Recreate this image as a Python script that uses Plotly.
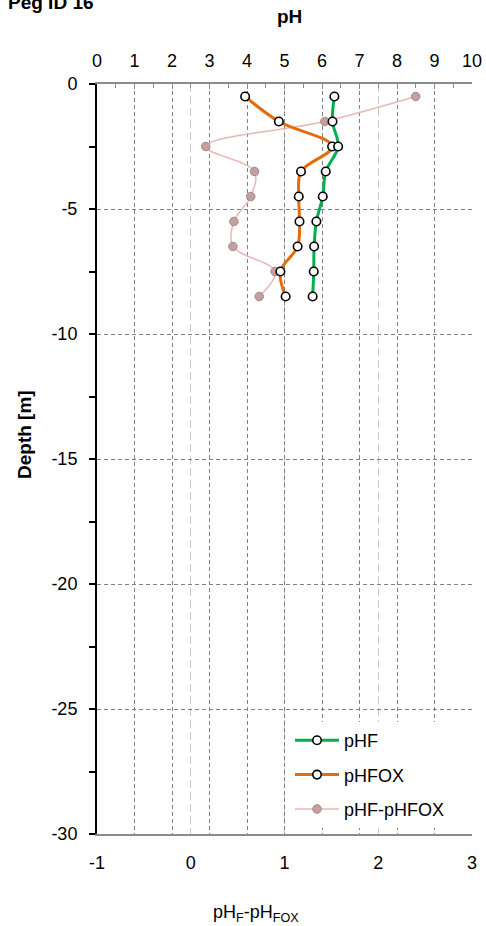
import plotly.graph_objects as go

# ---- data ----
depth = [-0.5, -1.5, -2.5, -3.5, -4.5, -5.5, -6.5, -7.5, -8.5]
ph_f = [6.33, 6.28, 6.43, 6.10, 6.02, 5.85, 5.79, 5.78, 5.75]
ph_fox = [3.95, 4.85, 6.27, 5.44, 5.38, 5.40, 5.35, 4.89, 5.03]
ph_diff = [2.40, 1.43, 0.16, 0.68, 0.64, 0.46, 0.45, 0.90, 0.73]

ph_tickvals = [0, 1, 2, 3, 4, 5, 6, 7, 8, 9, 10]
ph_ticktext = ["0", "1", "2", "3", "4", "5", "6", "7", "8", "9", "10"]
diff_tickvals = [-1, 0, 1, 2, 3]
diff_ticktext = ["-1", "0", "1", "2", "3"]
depth_tickvals = [0, -5, -10, -15, -20, -25, -30]
depth_ticktext = ["0", "-5", "-10", "-15", "-20", "-25", "-30"]

W, H = 486, 926
ML, MR, MT, MB = 97, 14, 84, 92
PW, PH = W - ML - MR, H - MT - MB
FONT = "Arial, 'Liberation Sans', sans-serif"


def px(x):
    return (x - ML) / PW


def py(y):
    return (H - MB - y) / PH


fig = go.Figure()

fig.add_trace(go.Scatter(
    x=ph_diff, y=depth, xaxis="x", yaxis="y", name="pHF-pHFOX",
    mode="lines+markers", line=dict(color="#E6B9B8", width=1.5, shape="spline", smoothing=1.0),
    marker=dict(size=8.5, color="#C4A0A0", line=dict(color="#A08888", width=1)),
    legendrank=3, legendgroup="c"))
fig.add_trace(go.Scatter(
    x=ph_fox, y=depth, xaxis="x2", yaxis="y", name="pHFOX",
    mode="lines+markers", line=dict(color="#E46C0A", width=3, shape="spline", smoothing=1.0),
    marker=dict(size=8.5, color="white", line=dict(color="black", width=1.6)),
    legendrank=2, legendgroup="b"))
fig.add_trace(go.Scatter(
    x=ph_f, y=depth, xaxis="x2", yaxis="y", name="pHF",
    mode="lines+markers", line=dict(color="#00B050", width=3, shape="spline", smoothing=1.0),
    marker=dict(size=8.5, color="white", line=dict(color="black", width=1.6)),
    legendrank=1, legendgroup="a"))

fig.update_layout(
    width=W, height=H,
    margin=dict(l=ML, r=MR, t=MT, b=MB, autoexpand=False),
    paper_bgcolor="white", plot_bgcolor="white",
    font=dict(family=FONT, size=18, color="black"),
    showlegend=True,
    legend=dict(x=px(290), y=py(722), xanchor="left", yanchor="top",
                bgcolor="white", borderwidth=0, tracegroupgap=8, itemwidth=44,
                font=dict(family=FONT, size=18, color="black")),
    xaxis=dict(
        range=[-1, 3], side="bottom", anchor="y",
        tickvals=diff_tickvals, ticktext=diff_ticktext, ticks="",
        showline=True, linecolor="#8C8C8C", linewidth=2,
        showgrid=True, gridcolor="#C8C8C8", gridwidth=1.2, griddash="8px,4px",
        zeroline=False, ticklabelstandoff=11,
    ),
    xaxis2=dict(
        range=[0, 10], side="top", overlaying="x", anchor="y",
        tickvals=ph_tickvals, ticktext=ph_ticktext,
        ticks="inside", ticklen=5, tickcolor="#8C8C8C", tickwidth=1,
        minor=dict(dtick=0.5, ticks="inside", ticklen=4, tickcolor="#8C8C8C", showgrid=False),
        showline=True, linecolor="#8C8C8C", linewidth=2,
        showgrid=True, gridcolor="#808080", gridwidth=1, griddash="4px,3px",
        zeroline=False, ticklabelstandoff=8,
    ),
    yaxis=dict(
        range=[-30, 0], anchor="x",
        tickvals=depth_tickvals, ticktext=depth_ticktext,
        ticks="outside", ticklen=6, tickcolor="black", tickwidth=1.5,
        minor=dict(dtick=2.5, ticks="outside", ticklen=6, tickcolor="black", tickwidth=1.5, showgrid=False),
        showline=True, linecolor="black", linewidth=2,
        showgrid=True, gridcolor="#808080", gridwidth=1, griddash="4px,3px",
        zeroline=False, ticklabelstandoff=8,
    ),
    yaxis2=dict(
        range=[-30, 0], overlaying="y", side="right", anchor="x",
        showline=True, linecolor="#8C8C8C", linewidth=2,
        showticklabels=False, ticks="", showgrid=False, zeroline=False,
    ),
    annotations=[
        dict(text="<b>Peg ID 16</b>", x=px(6), y=py(3), xref="paper", yref="paper",
             xanchor="left", yanchor="middle", showarrow=False,
             font=dict(family=FONT, size=19, color="black")),
        dict(text="<b>pH</b>", x=px(289), y=py(16), xref="paper", yref="paper",
             xanchor="center", yanchor="middle", showarrow=False,
             font=dict(family=FONT, size=19, color="black")),
        dict(text="<b>Depth [m]</b>", x=px(24), y=py(435), xref="paper", yref="paper",
             xanchor="center", yanchor="middle", showarrow=False, textangle=-90,
             font=dict(family=FONT, size=19, color="black")),
        dict(text="pH<sub>F</sub>-pH<sub>FOX</sub>", x=px(256), y=py(913), xref="paper", yref="paper",
             xanchor="center", yanchor="middle", showarrow=False,
             font=dict(family=FONT, size=18, color="black")),
    ],
)

fig.write_html("out.html", config={"displayModeBar": False},
               post_script="document.body.style.margin='0';document.body.style.padding='0';")
